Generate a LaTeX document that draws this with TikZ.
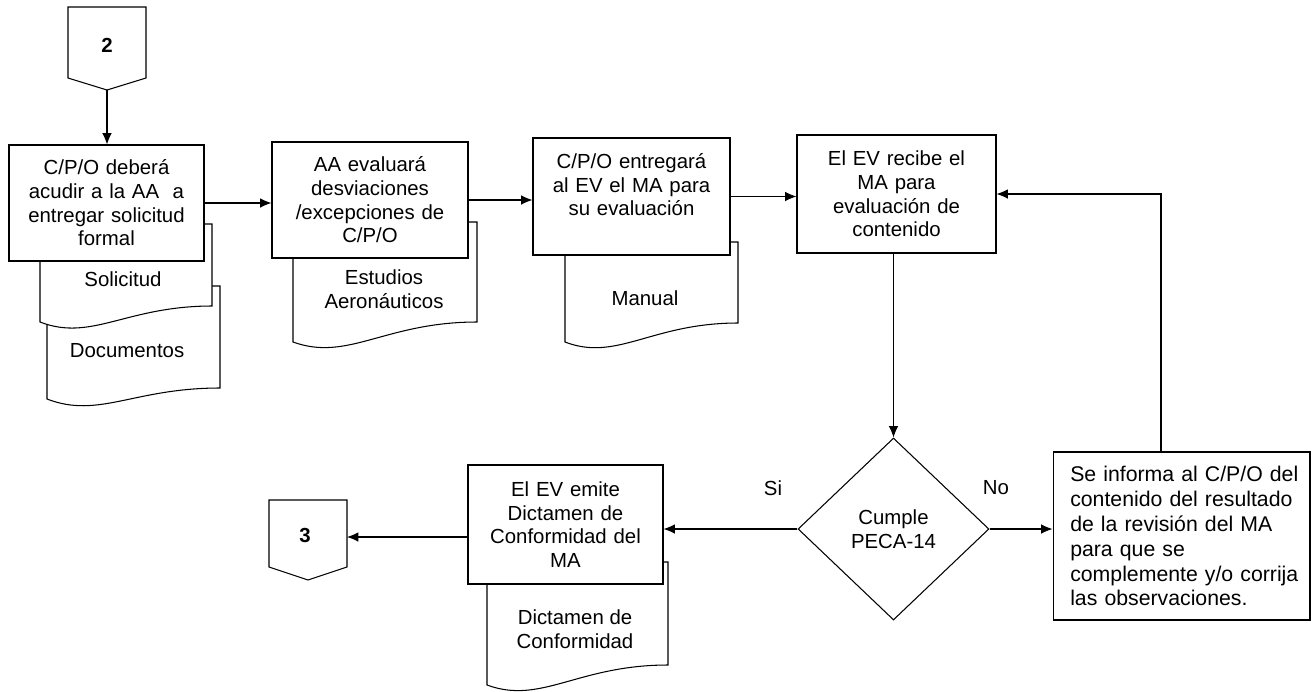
\documentclass[tikz,border=0pt]{standalone}
\usepackage{fontspec}
\setmainfont{Liberation Sans}
\usetikzlibrary{arrows.meta,shapes.geometric}

% hoja de documento: izq, der, arriba, abajo izq, abajo der
\newcommand{\hojadoc}[5]{%
	\draw[fill=white] (#1,#3) -- (#1,#4) .. controls ({#1+0.3*(#2-#1)},{#4+20}) and ({#1+0.5*(#2-#1)},#5) .. (#2,#5) -- (#2,#3) -- cycle;}

\begin{document}
\begin{tikzpicture}[x=0.02cm,y=-0.02cm,line width=0.6pt,>={Latex[length=6.5pt,width=5.5pt]},
	every node/.style={font=\fontsize{11.6}{13.5}\selectfont},
	proceso/.style={draw,fill=white,rectangle,align=center,inner sep=0pt},
	etiqueta/.style={inner sep=0pt,align=center}]
	\useasboundingbox (0,0) rectangle (1313,691);

	% conector 2
	\draw[fill=white] (68,7) -- (146,7) -- (146,78) -- (107,90) -- (68,78) -- cycle;
	\node (c2) at (107,45) {\textbf{2}};
	\coordinate (c2tip) at (107,90);

	% documentos
	\hojadoc{47}{220}{286}{399}{388}
	\node[etiqueta] (documentos) at (127,351) {Documentos};
	\hojadoc{40}{212}{224}{322}{306}
	\node[etiqueta] (solicitud) at (123,279) {Solicitud};
	\hojadoc{293}{477}{222}{342}{322}
	\node[etiqueta] (estudios) at (384,289) {Estudios\\Aeronáuticos};
	\hojadoc{565}{738}{242}{342}{323}
	\node[etiqueta] (manual) at (645,298) {Manual};
	\hojadoc{487}{668}{562}{685}{665}
	\node[etiqueta] (dictamen) at (575,629) {Dictamen de\\Conformidad};

	% procesos
	\node[proceso,minimum width=3.9cm,minimum height=2.32cm,text width=3.7cm] (acudir) at (106.5,203)
		{C/P/O deberá\\acudir a la AA~ a\\entregar solicitud\\formal};
	\node[proceso,minimum width=3.92cm,minimum height=2.32cm,text width=3.7cm] (evalua) at (370,200)
		{AA evaluará\\desviaciones\\/excepciones de\\C/P/O};
	\node[proceso,minimum width=3.94cm,minimum height=2.34cm,text width=3.7cm] (entrega) at (631.5,196.5)
		{C/P/O entregará\\al EV el MA para\\su evaluación\\ \mbox{}};
	\node[proceso,minimum width=3.98cm,minimum height=2.36cm,text width=3.7cm] (recibe) at (896.5,194)
		{El EV recibe el\\MA para\\evaluación de\\contenido};
	\node[draw,fill=white,diamond,inner sep=0pt,minimum width=3.82cm,minimum height=3.64cm,align=center] (cumple) at (893.5,529)
		{Cumple\\PECA-14};
	\node[proceso,minimum width=5.14cm,minimum height=3.36cm,text width=4.85cm,align=left,
		font=\fontsize{12.1}{14.2}\selectfont] (informa) at (1181.5,536)
		{\hspace*{0.2cm}Se informa al C/P/O del\\\hspace*{0.2cm}contenido del resultado\\\hspace*{0.2cm}de la revisión del MA\\\hspace*{0.2cm}para que se\\\hspace*{0.2cm}complemente y/o corrija\\\hspace*{0.2cm}las observaciones.};
	\node[proceso,minimum width=3.9cm,minimum height=2.38cm,text width=3.7cm] (emite) at (565.5,524.5)
		{El EV emite\\Dictamen de\\Conformidad del\\MA};

	% conector 3
	\draw[fill=white] (269,500) -- (347,500) -- (347,567) -- (308,580) -- (269,567) -- cycle;
	\node (c3) at (305,535) {\textbf{3}};
	\coordinate (c3in) at (347,537);

	\node[etiqueta] (si) at (773,488) {Si};
	\node[etiqueta] (no) at (996,488) {No};

	% flechas
	\draw[->] (c2tip) -- (c2tip |- acudir.north);
	\draw[->] (acudir.east) -- (acudir.east -| evalua.west);
	\draw[->] (evalua.east) -- (evalua.east -| entrega.west);
	\draw[->] (entrega.east) -- (entrega.east -| recibe.west);
	\draw[->] (recibe.south -| cumple.north) -- (cumple.north);
	\draw[->] (cumple.east) -- (cumple.east -| informa.west);
	\draw[->] ([xshift=-0.41cm]informa.north) |- (recibe.east);
	\draw[->] (cumple.west) -- (cumple.west -| emite.east);
	\draw[->] (emite.west |- c3in) -- (c3in);
\end{tikzpicture}
\end{document}
